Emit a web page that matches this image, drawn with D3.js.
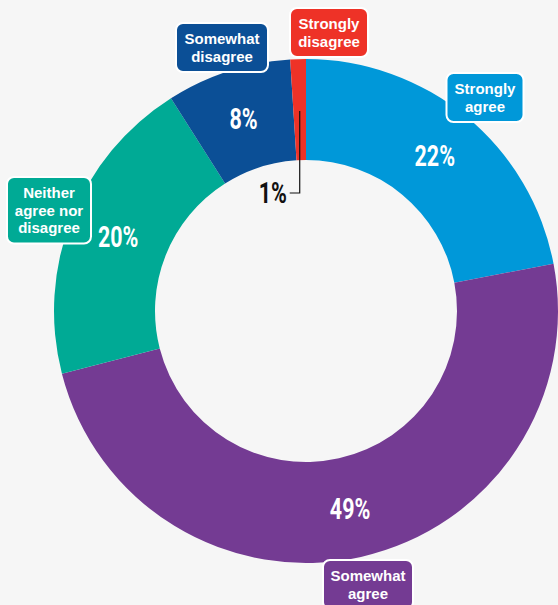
<!DOCTYPE html>
<html>
<head>
<meta charset="utf-8">
<script src="https://cdn.jsdelivr.net/npm/d3@7"></script>
<style>
  html, body { margin: 0; padding: 0; background: #f6f6f6; }
  svg { display: block; }
  .pct { font-family: Roboto, "Liberation Sans", sans-serif; font-weight: 700; }
  .lbl { font-family: "Liberation Sans", Arial, sans-serif; font-weight: 700; fill: #fff; font-size: 15px; }
</style>
</head>
<body>
<svg id="chart" width="558" height="605"></svg>
<script>
// Survey responses, in clockwise order from 12 o'clock
const categories = ["Strongly agree", "Somewhat agree", "Neither agree nor disagree", "Somewhat disagree", "Strongly disagree"];
const values = [22, 49, 20, 8, 1];
const colors = ["#0098d9", "#743b93", "#00aa95", "#0b4f96", "#ee3227"];
const labelLines = [["Strongly", "agree"], ["Somewhat", "agree"], ["Neither", "agree nor", "disagree"], ["Somewhat", "disagree"], ["Strongly", "disagree"]];

// Callout box placement (centre x, top y, width)
const boxLayout = [
  { cx: 485, top: 73, w: 77 },
  { cx: 368, top: 560, w: 90 },
  { cx: 49, top: 177, w: 84 },
  { cx: 222, top: 23, w: 92 },
  { cx: 329, top: 8, w: 78 }
];

const width = 558, height = 605;
const cx = 306, cy = 311;
const outerR = 252, innerR = 151;

const svg = d3.select("#chart");
svg.append("rect").attr("width", width).attr("height", height).attr("fill", "#f6f6f6");

const data = categories.map((c, i) => ({ cat: c, value: values[i], color: colors[i], lines: labelLines[i], box: boxLayout[i] }));

const pie = d3.pie().value(d => d.value).sort(null);
const arcs = pie(data);
const arc = d3.arc().innerRadius(innerR).outerRadius(outerR);
const labelArc = d3.arc().innerRadius(202).outerRadius(202);

const g = svg.append("g").attr("transform", `translate(${cx},${cy})`);

g.selectAll("path.slice")
  .data(arcs)
  .join("path")
  .attr("class", "slice")
  .attr("d", arc)
  .attr("fill", d => d.data.color);

// Percentage labels inside the ring (skip the thin slice, labelled separately)
function pctText(sel, x, y, txt, fill) {
  sel.append("text")
    .attr("class", "pct")
    .attr("transform", `translate(${x},${y}) scale(0.74,1)`)
    .attr("text-anchor", "middle")
    .attr("dy", "0.36em")
    .attr("font-size", 29)
    .attr("fill", fill)
    .text(txt);
}

arcs.forEach(a => {
  if (a.data.value < 3) return;
  const [x, y] = labelArc.centroid(a);
  pctText(g, x, y, a.data.value + "%", "#fff");
});

// Thin slice: leader line from the slice down to an outside label
const small = arcs.find(a => a.data.value < 3);
if (small) {
  const mid = (small.startAngle + small.endAngle) / 2;
  const rTop = 200;
  const lx = rTop * Math.sin(mid);
  const ly = -rTop * Math.cos(mid);
  const yEnd = -118;
  g.append("path")
    .attr("d", `M${lx},${ly} V${yEnd} H${lx - 10}`)
    .attr("fill", "none")
    .attr("stroke", "#111")
    .attr("stroke-width", 1.2);
  pctText(g, lx - 27, yEnd, small.data.value + "%", "#111");
}

// Category callout boxes
const lineH = 17.5;
data.forEach(d => {
  const b = d.box;
  const h = d.lines.length * lineH + 14;
  const bg = svg.append("g");
  bg.append("rect")
    .attr("x", b.cx - b.w / 2)
    .attr("y", b.top)
    .attr("width", b.w)
    .attr("height", h)
    .attr("rx", 7)
    .attr("fill", d.color)
    .attr("stroke", "#fff")
    .attr("stroke-width", 2);
  d.lines.forEach((ln, i) => {
    bg.append("text")
      .attr("class", "lbl")
      .attr("x", b.cx)
      .attr("y", b.top + 7 + lineH * (i + 0.5))
      .attr("dy", "0.36em")
      .attr("text-anchor", "middle")
      .text(ln);
  });
});
</script>
</body>
</html>
